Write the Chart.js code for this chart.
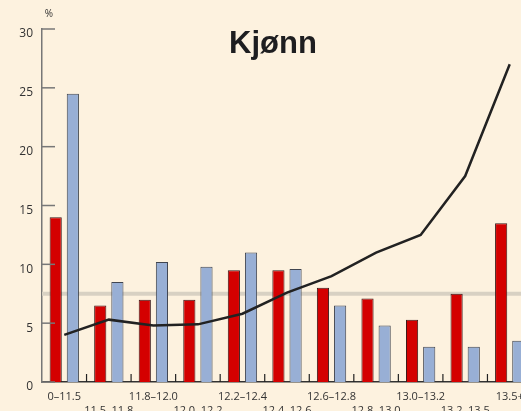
<!DOCTYPE html>
<html>
<head>
<meta charset="utf-8">
<script src="https://cdn.jsdelivr.net/npm/chart.js@4/dist/chart.umd.min.js"></script>
<style>
  html, body { margin: 0; padding: 0; background: #fdf2df; overflow: hidden; }
  #wrap { width: 532px; height: 420px; }
</style>
</head>
<body>
<div id="wrap"><canvas id="chart" width="532" height="420"></canvas></div>
<script>
// age groups (years)
const categories = ['0–11.5', '11.5–11.8', '11.8–12.0', '12.0–12.2', '12.2–12.4', '12.4–12.6',
                    '12.6–12.8', '12.8–13.0', '13.0–13.2', '13.2–13.5', '13.5+'];
const girls = [14, 6.5, 7, 7, 9.5, 9.5, 8, 7.1, 5.3, 7.5, 13.5];
const boys = [24.5, 8.5, 10.2, 9.8, 11, 9.6, 6.5, 4.8, 3, 3, 3.5];
const cumulative = [4, 5.3, 4.8, 4.9, 5.8, 7.6, 9, 11, 12.5, 17.5, 27];
const averageLevel = 7.5;
const yTicks = [0, 5, 10, 15, 20, 25, 30];

// stagger labels onto two rows
const labels = categories.map((c, i) => i % 2 === 0 ? [c] : ['', c]);

const decorations = {
    id: 'decorations',
    beforeDatasetsDraw(chart) {
        const { ctx, chartArea, scales } = chart;
        const y = scales.y.getPixelForValue(averageLevel);
        ctx.save();
        ctx.strokeStyle = '#d8d1c3';
        ctx.lineWidth = 4;
        ctx.beginPath();
        ctx.moveTo(chartArea.left, y);
        ctx.lineTo(chartArea.right, y);
        ctx.stroke();
        ctx.restore();
    },
    afterDraw(chart) {
        const { ctx, chartArea, scales } = chart;
        ctx.save();
        // y ticks pointing inward
        ctx.strokeStyle = '#777';
        ctx.lineWidth = 1.5;
        yTicks.forEach(v => {
            const y = scales.y.getPixelForValue(v);
            ctx.beginPath();
            ctx.moveTo(chartArea.left, y);
            ctx.lineTo(chartArea.left + 13, y);
            ctx.stroke();
        });
        // category separators on x axis
        ctx.strokeStyle = '#222';
        ctx.lineWidth = 1.2;
        for (let i = 1; i < categories.length; i++) {
            const x = (scales.x.getPixelForValue(i - 1) + scales.x.getPixelForValue(i)) / 2;
            ctx.beginPath();
            ctx.moveTo(x, chartArea.bottom);
            ctx.lineTo(x, chartArea.bottom - 8);
            ctx.stroke();
        }
        // unit and title
        ctx.fillStyle = '#333';
        ctx.font = '10px "Open Sans", sans-serif';
        ctx.textAlign = 'center';
        ctx.textBaseline = 'middle';
        ctx.fillText('%', chartArea.left + 7, 14);
        ctx.fillStyle = '#1e1e20';
        ctx.font = 'bold 31px "Liberation Sans", Arial, sans-serif';
        ctx.fillText('Kjønn', 273, 44);
        ctx.restore();
    }
};

new Chart(document.getElementById('chart').getContext('2d'), {
    type: 'bar',
    data: {
        labels: labels,
        datasets: [{
            type: 'line',
            data: cumulative,
            borderColor: '#222',
            borderWidth: 2.5,
            pointRadius: 0,
            tension: 0,
            order: 0
        }, {
            data: girls,
            backgroundColor: '#d40000',
            borderColor: '#3a1a1a',
            borderWidth: 1,
            order: 1
        }, {
            data: boys,
            backgroundColor: '#98afd5',
            borderColor: '#404550',
            borderWidth: 1,
            order: 1
        }]
    },
    options: {
        responsive: false,
        animation: false,
        layout: { padding: { top: 29, left: 0, right: 0, bottom: 0 } },
        categoryPercentage: 0.77,
        barPercentage: 0.71,
        plugins: {
            legend: { display: false },
            tooltip: { enabled: false }
        },
        scales: {
            x: {
                offset: true,
                grid: { display: false, drawTicks: false },
                border: { display: true, color: '#333', width: 1.5 },
                ticks: {
                    autoSkip: false,
                    maxRotation: 0,
                    padding: 8,
                    color: '#333',
                    font: { family: '"Open Sans", sans-serif', size: 11, lineHeight: 1.25 }
                },
                afterFit(scale) { scale.height = 38; }
            },
            y: {
                min: 0,
                max: 30,
                grid: { display: false, drawTicks: false },
                border: { display: true, color: '#777', width: 1.5 },
                ticks: {
                    stepSize: 5,
                    padding: 9,
                    labelOffset: 5,
                    color: '#333',
                    font: { family: '"Open Sans", sans-serif', size: 12 }
                },
                afterFit(scale) { scale.width = 42; }
            }
        }
    },
    plugins: [decorations]
});
</script>
</body>
</html>
